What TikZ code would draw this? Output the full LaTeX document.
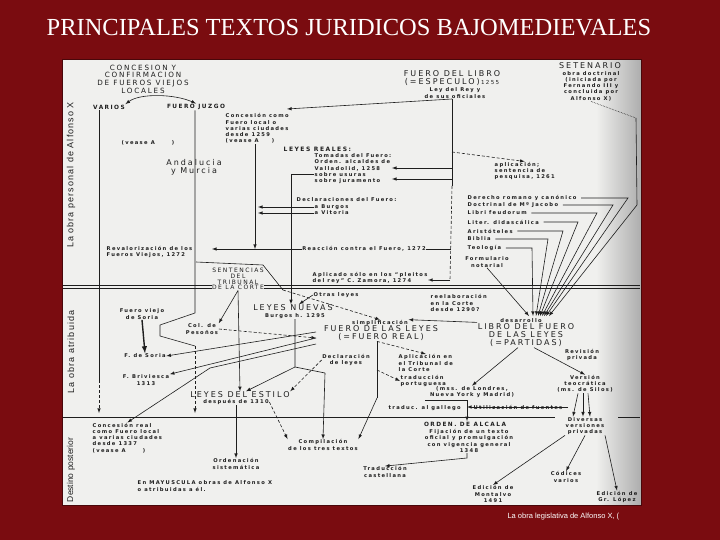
\documentclass[tikz,border=0pt]{standalone}
\usepackage{fontspec}
\setmainfont{Liberation Serif}
\setsansfont{Liberation Sans}
\newfontfamily\scanfont[LetterSpace=25]{DejaVu Sans}
\newfontfamily\marginfont[LetterSpace=12]{Liberation Sans}
\usetikzlibrary{arrows,calc,shadings}
\definecolor{slidered}{RGB}{122,12,16}
\definecolor{paper}{RGB}{240,240,238}
\definecolor{ink}{RGB}{30,30,30}
\tikzset{
	small text/.style={font=\scanfont\bfseries\fontsize{5.2}{6.2}\selectfont, text=ink, inner sep=.5pt, align=center},
	left text/.style={small text, align=left},
	title text/.style={font=\scanfont\fontsize{8}{8.4}\selectfont, text=ink, inner sep=.5pt, align=center},
	link/.style={draw=ink, line width=.6pt, -latex},
	rule/.style={draw=ink, line width=.6pt},
	broken/.style={draw=ink, line width=.6pt, dash pattern=on 3pt off 2pt}
}
\tikzstyle{masked}=[fill=paper]
\tikzstyle{margin}=[font=\marginfont\fontsize{9}{9}\selectfont, text=ink, rotate=90, inner sep=0pt]

\begin{document}
\begin{tikzpicture}[x=1pt,y=-1pt]
	\useasboundingbox (0,0) rectangle (720,540);
	\fill[slidered] (0,0) rectangle (720,540);
	\node[font=\rmfamily\fontsize{24.5}{25}\selectfont, text=white] (title) at (349,28) {PRINCIPALES TEXTOS JURIDICOS BAJOMEDIEVALES};
%
	\fill[paper] (62,60) rectangle (641,505);
	\shade[left color=paper, right color=black!32] (596,60) rectangle (641,505);
	\draw[slidered!60!black, line width=1pt] (62,60) rectangle (641,505);
	\begin{scope}
		\clip (0,505) rectangle (640,540);
		\node[anchor=west, font=\sffamily\fontsize{7.5}{8}\selectfont, text=white] (caption) at (504,517) {La obra legislativa de Alfonso X, (};
	\end{scope}
%
	\draw[rule] (63,285.5) -- (640,285.5);
	\draw[rule] (63,288.5) -- (640,288.5);
	\draw[rule, line width=1.2pt] (63,417.5) -- (555,417.5);
	\draw[rule, line width=1.2pt] (618,417.5) -- (640,417.5);
	\node[margin] (mpersonal) at (71,175) {La obra personal de Alfonso X};
	\node[margin] (matribuida) at (71,352) {La obra atribuida};
	\node[margin, font=\sffamily\fontsize{8.5}{8.5}\selectfont] (mdestino) at (71,470) {Destino posterior};
%
	\node[title text, font=\scanfont\fontsize{7.2}{7.6}\selectfont] (concesion) at (143,79) {CONCESION Y\\CONFIRMACION\\DE FUEROS VIEJOS\\LOCALES};
	\node[small text, font=\scanfont\fontsize{5.8}{6}\selectfont\bfseries] (varios) at (109,107) {VARIOS};
	\node[small text, font=\scanfont\fontsize{5.8}{6}\selectfont\bfseries] (juzgo) at (196,107) {FUERO JUZGO};
	\draw[ink, line width=.6pt, latex-latex] (varios.north east) .. controls (140,93) and (175,94) .. (juzgo.north);
	\node[small text] (veaseA) at (148,143) {(vease A \hspace{14pt})};
	\node[small text, font=\scanfont\fontsize{8}{8}\selectfont] (andalucia) at (194,167) {Andalucia\\y Murcia};
	\node[left text, anchor=north west] (concomo) at (225,113) {Concesión como\\Fuero local o\\varias ciudades\\desde 1259\\(vease A \hspace{10pt})};
%
	\coordinate (variosbrk) at (99,380);
	\coordinate (variosend) at (99,413);
	\draw[rule] (varios.south -| variosbrk) -- (variosbrk);
	\draw[broken, -latex] (variosbrk) -- (variosend);
	\coordinate (brA) at (195,313);
	\coordinate (brB) at (160,325);
	\coordinate (brC) at (160,336);
	\coordinate (brD) at (195,346);
	\coordinate (juzgoend) at (195,413);
	\draw[rule] (juzgo.south -| brA) -- (brA) -- (brB) -- (brC) -- (brD);
	\draw[broken, -latex] (brD) -- (juzgoend);
%
	\node[title text] (especulo) at (452,78) {FUERO DEL LIBRO\\(=ESPECULO)\,{\fontsize{5.5}{6}\selectfont 1255}};
	\node[small text] (leyrey) at (455,93) {Ley del Rey y\\de sus oficiales};
	\coordinate (fdltop) at (452,99);
	\coordinate (fdlap) at (452,152);
	\coordinate (fdl168) at (452,168);
	\coordinate (fdl179) at (452,179);
	\coordinate (fdlmid) at (452,186);
	\coordinate (fdl249) at (451,249);
	\coordinate (fdlbot) at (450,280);
	\coordinate (concomoin) at (287,109);
	\draw[rule] (fdltop) -- (fdlmid);
	\draw[broken] (fdlmid) -- (fdlbot);
	\draw[link] (fdltop) -- (concomoin);
	\node[left text, anchor=west] (aplicacion) at (494,171) {aplicación;\\sentencia de\\pesquisa, 1261};
	\draw[link, broken] (fdlap) -- (aplicacion.north);
%
	\node[left text, anchor=west, font=\scanfont\bfseries\fontsize{6}{7}\selectfont] (leyesreales) at (283,149) {LEYES REALES:};
	\node[left text, anchor=north west] (tomadas) at (314,153) {Tomadas del Fuero:\\Orden. alcaldes de\\Valladolid, 1258\\sobre usuras\\sobre juramento};
	\draw[link] (fdl168) -- (fdl168 -| tomadas.east);
	\draw[link] (fdl179) -- (fdl179 -| tomadas.east);
	\coordinate (usuras) at (291,174);
	\draw[rule] (tomadas.west |- usuras) -- (usuras);
	\node[left text, anchor=west] (declaraciones) at (296,200) {Declaraciones del Fuero:};
	\node[left text, anchor=west] (burgos) at (314,207) {a Burgos};
	\node[left text, anchor=west] (vitoria) at (314,213) {a Vitoria};
	\coordinate (declin) at (258,0);
	\draw[link] (burgos.west) -- (burgos.west -| declin);
	\draw[link] (vitoria.west) -- (vitoria.west -| declin);
%
	\node[left text, anchor=west] (revalor) at (106,252) {Revalorización de los\\Fueros Viejos, 1272};
	\coordinate (revalin) at (212,249);
	\coordinate (concomobot) at (255,143);
	\draw[link] (fdl249) -- (revalin);
	\node[small text, masked] (reaccion) at (364,249) {Reacción contra el Fuero, 1272};
	\draw[link] (concomo.south -| concomobot) -- (concomobot |- fdl249);
	\node[left text, anchor=west] (zamora) at (312,278) {Aplicado sólo en los “pleitos\\del rey” C. Zamora, 1274};
	\draw[link] (fdlbot) -- (zamora.east |- fdlbot);
%
	\node[title text] (setenario) at (590,66) {SETENARIO};
	\node[small text] (setobra) at (591,86) {obra doctrinal\\(iniciada por\\Fernando III y\\concluida por\\Alfonso X)};
	\node[left text, anchor=west] (derecho) at (467,198) {Derecho romano y canónico};
	\node[left text, anchor=west] (doctrinal) at (467,205) {Doctrinal de Mº Jacobo};
	\node[left text, anchor=west] (feudorum) at (467,213) {Libri feudorum};
	\node[left text, anchor=west] (didascalica) at (467,222) {Liter. didascálica};
	\node[left text, anchor=west] (aristoteles) at (467,231) {Aristóteles};
	\node[left text, anchor=west] (biblia) at (467,239) {Biblia};
	\node[left text, anchor=west] (teologia) at (467,248) {Teología};
	\node[small text] (formulario) at (487,262) {Formulario\\notarial};
	\foreach \src/\xe/\xt in {derecho/628/546, doctrinal/613/544, feudorum/597/542, didascalica/578/540, aristoteles/563/538, biblia/548/536, teologia/532/533}{
		\coordinate (knee) at (\xe,0);
		\coordinate (tip) at (\xt,316);
		\draw[link] ([xshift=4pt]\src.east) -- (\src.east -| knee) -- (tip);
	}
	\coordinate (setA) at (636,118);
	\coordinate (setB) at (637,205);
	\coordinate (settip) at (549,316);
	\draw[ink, line width=.6pt, densely dotted] (setobra.south) -- (setA);
	\draw[link] (setA) -- (setB) -- (settip);
	\coordinate (formtip) at (529,316);
	\draw[link] (formulario.south) -- (formtip);
%
	\node[small text] (desarrollo) at (521,321) {desarrollo};
	\node[title text] (partidas) at (526,335) {LIBRO DEL FUERO\\DE LAS LEYES\\(=PARTIDAS)};
	\node[left text, anchor=west] (reelab) at (430,303) {reelaboración\\en la Corte\\desde 1290?};
	\node[small text, font=\scanfont\fontsize{6}{5.7}\selectfont, masked] (sentencias) at (238,279) {SENTENCIAS\\DEL\\TRIBUNAL\\DE LA CORTE};
	\coordinate (sentA) at (196,262);
	\coordinate (sentB) at (263,265);
	\coordinate (sentC) at (283,290);
	\draw[rule] (sentA) -- (sentB) -- (sentC);
	\node[small text] (otras) at (336,295) {Otras leyes};
	\node[title text] (nuevas) at (293,308) {LEYES NUEVAS};
	\node[small text] (burgos95) at (295,316) {Burgos h. 1295};
	\node[small text] (simplif) at (380,323) {simplificación};
	\node[title text] (fueroreal) at (381,333) {FUERO DE LAS LEYES\\(=FUERO REAL)};
	\draw[link, broken] (sentC) -- (simplif.north);
	\draw[link] (partidas.north west) -- (simplif.north east);
	\draw[link] (otras.west) -- ([xshift=6pt]nuevas.north);
	\draw[link] (usuras) -- (nuevas.north -| usuras);
%
	\node[small text] (colpes) at (202,329) {Col. de\\Pesoños};
	\node[small text] (fvsoria) at (142,314) {Fuero viejo\\de Soria};
	\node[small text] (fsoria) at (145,356) {F. de Soria};
	\node[small text] (fbriv) at (146,380) {F. Briviesca\\1313};
	\draw[ink, line width=1.4pt, -latex] (fvsoria.south) -- (fsoria.north);
	\draw[link] (sentencias.south) -- (colpes.north east);
	\coordinate (frA) at (316,332);
	\coordinate (frB) at (316,338);
	\coordinate (frC) at (316,344);
	\coordinate (frknee) at (210,368);
	\draw[link] (frA) -- (fsoria.east);
	\draw[link] (frB) -- (fbriv.north east);
	\draw[broken, -latex] (colpes.east) -- (frB);
%
	\node[small text] (declaracion) at (346,360) {Declaración\\de leyes};
	\node[left text, anchor=west] (tribunal) at (398,363) {Aplicación en\\el Tribunal de\\la Corte};
	\node[left text, anchor=west] (portuguesa) at (400,381) {traducción\\portuguesa};
	\node[small text] (mss) at (472,392) {(mss. de Londres,\\Nueva York y Madrid)};
	\node[left text, anchor=west] (gallego) at (388,408) {traduc. al gallego};
	\node[title text] (estilo) at (240,395) {LEYES DEL ESTILO};
	\node[small text] (despues) at (236,402) {después de 1310};
	\node[small text] (compil) at (323,445) {Compilación\\de los tres textos};
	\draw[link] (sentencias.south) -- (estilo.north);
	\coordinate (lnA) at (295,367);
	\coordinate (lnB) at (325,373);
	\draw[rule] (burgos95.south -| lnA) -- (lnA) -- (lnB);
	\draw[link] (lnB) -- (compil.north);
	\draw[link] (lnA) -- ([xshift=6pt]estilo.north);
	\draw[link, broken] (declaracion.west) -- (estilo.north east);
	\coordinate (frV) at (377,398);
	\coordinate (frP) at (377,370);
	\draw[rule] (fueroreal.south -| frV) -- (frV);
	\draw[link] (frV) -- (compil.north east);
	\draw[link, broken] (fueroreal.south -| frV) -- (tribunal.north);
	\draw[broken, -latex] (frP) -- (portuguesa.west);
	\draw[link, broken] (despues.east) -- (compil.north west);
%
	\node[left text, anchor=west] (creal) at (92,438) {Concesión real\\como Fuero local\\a varias ciudades\\desde 1337\\(vease A \hspace{14pt})};
	\draw[link] (frC) -- (frknee) -- (creal.north);
	\node[small text] (ordsis) at (236,464) {Ordenación\\sistemática};
	\draw[link] (despues.south) -- (ordsis.north);
	\node[left text, anchor=west] (leyenda) at (137,486) {En MAYUSCULA obras de Alfonso X\\o atribuidas a él.};
%
	\node[title text, font=\scanfont\bfseries\fontsize{5.8}{6.5}\selectfont] (alcala) at (465,424) {ORDEN. DE ALCALA};
	\node[small text] (fijacion) at (469,441) {Fijación de un texto\\oficial y promulgación\\con vigencia general\\1348};
	\coordinate (galA) at (425,400);
	\coordinate (galB) at (467,400);
	\draw[rule] (galA) -- (galB);
	\draw[link] (galB) -- (alcala.north -| galB);
	\node[small text, masked] (utiliz) at (518,407) {Utilización de fuentes};
	\coordinate (utilR) at (568,407);
	\draw[link] (utilR) -- (galB |- utilR);
	\node[small text] (castellana) at (385,472) {Traducción\\castellana};
	\coordinate (fijA) at (467,458);
	\draw[link] (fijacion.south -| fijA) -- (fijA) -- (castellana.north);
%
	\node[small text] (revision) at (582,355) {Revisión\\privada};
	\node[small text] (version) at (585,384) {Versión\\teocrática\\(ms. de Silos)};
	\node[small text] (diversas) at (585,426) {Diversas\\versiones\\privadas};
	\node[small text] (codices) at (566,477) {Códices\\varios};
	\node[small text] (montalvo) at (493,494) {Edición de\\Montalvo\\1491};
	\node[small text] (lopez) at (617,497) {Edición de\\Gr. López};
	\draw[link] ([xshift=-8pt]partidas.south) -- (mss.north);
	\draw[link] ([xshift=8pt]partidas.south) -- (version.north);
	\foreach \dx/\tx in {-7/-12, -2/-2, 3/5}
		\draw[link] ([xshift=\dx pt]version.south) -- ([xshift=\tx pt]diversas.north);
	\draw[link] (diversas.south west) -- (montalvo.north);
	\draw[link] (diversas.south) -- (codices.north);
	\draw[link] (diversas.south east) -- (lopez.north);
\end{tikzpicture}
\end{document}
